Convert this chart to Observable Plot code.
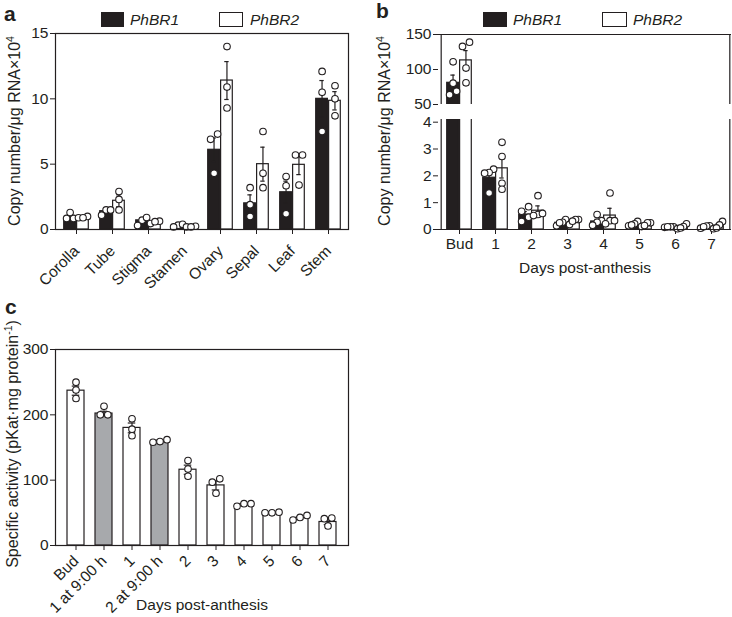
<!DOCTYPE html>
<html>
<head>
<meta charset="utf-8">
<script src="https://cdn.jsdelivr.net/npm/d3@7"></script>
<script src="https://cdn.jsdelivr.net/npm/@observablehq/plot@0.6"></script>
<style>
  html, body { margin: 0; padding: 0; background: #fff; }
  #root { position: relative; width: 732px; height: 617px; overflow: hidden; background: #fff;
          font-family: 'Liberation Sans', Arial, Helvetica, sans-serif; color: #231f20; }
  #root svg text { font-size: 15.5px; }
  .abs { position: absolute; white-space: nowrap; }
  .panel { font-weight: bold; font-size: 21px; line-height: 1; }
  .title { font-size: 15.5px; line-height: 1; transform: translate(-50%, -50%); }
  .ytitle { font-size: 16px; line-height: 1; transform: translate(-50%, -50%) rotate(-90deg); }
  .ytitle sup, .title sup { font-size: 10.5px; vertical-align: 0.55em; line-height: 0; }
  .sw { position: absolute; box-sizing: border-box; border: 1.2px solid #231f20; }
  .leg { position: absolute; font-size: 15.5px; font-style: italic; line-height: 1; transform: translateY(-50%); }
</style>
</head>
<body>
<div id="root"></div>
<script>
// ---------------- data ----------------
const genes = ["PhBR1", "PhBR2"];

// panel a: tissues
const tissues = ["Corolla", "Tube", "Stigma", "Stamen", "Ovary", "Sepal", "Leaf", "Stem"];
const aBR1Mean = [0.85, 1.4, 0.7, 0.3, 6.1, 2.0, 2.85, 10.0];
const aBR1Sem  = [0.15, 0.13, 0.17, 0.06, 0.9, 0.65, 0.85, 1.4];
const aBR1Reps = [[0.85, 1.3, 0.85], [1.5, 1.5, 1.1], [0.92, 0.71, 0.3], [0.2, 0.4, 0.33],
                  [7.3, 6.9, 4.3], [3.2, 1.9, 1.0], [4.05, 3.35, 1.2], [12.1, 10.5, 7.5]];
const aBR2Mean = [0.95, 2.2, 0.58, 0.24, 11.4, 5.0, 4.95, 9.85];
const aBR2Sem  = [0.05, 0.45, 0.06, 0.03, 1.45, 1.3, 0.75, 0.7];
const aBR2Reps = [[0.9, 1.0, 0.9], [2.9, 2.3, 1.5], [0.45, 0.64, 0.6], [0.2, 0.25, 0.2],
                  [14.0, 10.9, 9.3], [7.5, 4.3, 3.2], [5.7, 5.7, 3.4], [11.0, 10.0, 8.7]];
const aTicks = [0, 5, 10, 15];

// panel b: days post-anthesis (broken axis)
const days = ["Bud", "1", "2", "3", "4", "5", "6", "7"];
const bBR1Mean = [81, 1.93, 0.55, 0.25, 0.3, 0.19, 0.09, 0.11];
const bBR1Sem  = [11, 0.2, 0.12, 0.05, 0.08, 0.04, 0.01, 0.02];
const bBR1Reps = [[111, 80.5, 64, 69], [2.25, 2.12, 2.1, 1.36], [0.85, 0.68, 0.46, 0.3], [0.37, 0.27, 0.25, 0.14],
                  [0.56, 0.33, 0.27, 0.16], [0.3, 0.21, 0.14, 0.17], [0.1, 0.1, 0.08, 0.1], [0.14, 0.13, 0.1, 0.05]];
const bBR2Mean = [113, 2.28, 0.7, 0.33, 0.52, 0.22, 0.1, 0.14];
const bBR2Sem  = [14, 0.36, 0.18, 0.04, 0.27, 0.04, 0.04, 0.06];
const bBR2Reps = [[139, 133, 102, 81], [3.25, 2.72, 1.72, 1.5], [1.26, 0.6, 0.56, 0.52], [0.37, 0.37, 0.31, 0.19],
                  [1.36, 0.33, 0.33, 0.21], [0.25, 0.25, 0.15, 0.11], [0.21, 0.11, 0.06, 0.03], [0.3, 0.17, 0.06, 0.03]];
const bUpperDomain = [50, 150];
const bLowerDomain = [0, 4.1];
const bUpperTicks = [50, 100, 150];
const bLowerTicks = [0, 1, 2, 3, 4];

// panel c: specific activity
const stages = ["Bud", "1 at 9:00 h", "1", "2 at 9:00 h", "2", "3", "4", "5", "6", "7"];
const stageMorning = [false, true, false, true, false, false, false, false, false, false];
const cMean = [237, 202, 180, 160, 116, 92, 63, 50.5, 42, 36];
const cSem  = [7, 3.5, 7.5, 1.2, 7, 7, 1.5, 0.5, 2, 4];
const cReps = [[250, 238, 225], [213, 200, 200], [194, 178, 168], [158, 162, 159], [130, 117, 106],
               [102, 97, 80], [60, 64, 64], [50, 51, 50], [46, 39, 43], [42, 41, 30]];
const cTicks = [0, 100, 200, 300];

// ---------------- helpers ----------------
const BLACK = "#231f20";
const GREY = "#a7a9ac";
const FONT = "'Liberation Sans', Arial, Helvetica, sans-serif";
const root = document.getElementById("root");
const baseStyle = {fontFamily: FONT, fontSize: "15.5px", color: BLACK, background: "transparent", overflow: "visible"};
const intFmt = d => String(d);

function place(el, left, top) {
  el.style.position = "absolute";
  el.style.left = left + "px";
  el.style.top = top + "px";
  root.appendChild(el);
}
function html(cls, inner, left, top) {
  const d = document.createElement("div");
  d.className = "abs " + cls;
  d.innerHTML = inner;
  d.style.left = left + "px";
  d.style.top = top + "px";
  root.appendChild(d);
  return d;
}
function swatch(left, top, w, h, fill) {
  const d = document.createElement("div");
  d.className = "sw";
  Object.assign(d.style, {left: left + "px", top: top + "px", width: w + "px", height: h + "px", background: fill});
  root.appendChild(d);
}
function summary(cats, mean, sem) {
  return cats.map((c, i) => ({cat: c, mean: mean[i], lo: Math.max(0, mean[i] - sem[i]), hi: mean[i] + sem[i]}));
}
// symmetric horizontal spreading of replicate dots that would overlap vertically
function dodge(values, pxPerUnit, step, maxHalf) {
  const idx = values.map((v, i) => i).sort((a, b) => values[a] - values[b]);
  const off = new Array(values.length).fill(0);
  let cluster = [idx[0]];
  const flush = () => {
    const n = cluster.length;
    const s = n > 1 ? Math.min(step, 2 * maxHalf / (n - 1)) : 0;
    cluster.forEach((k, j) => off[k] = (j - (n - 1) / 2) * s);
  };
  for (let j = 1; j < idx.length; j++) {
    if ((values[idx[j]] - values[idx[j - 1]]) * pxPerUnit < 5.5) cluster.push(idx[j]);
    else { flush(); cluster = [idx[j]]; }
  }
  flush();
  return off;
}
function pointRows(cats, reps, groupDx, pxFn, step, maxHalf) {
  const rows = [];
  cats.forEach((c, i) => {
    const vals = reps[i];
    const off = dodge(vals, pxFn(vals), step, maxHalf);
    vals.forEach((v, j) => rows.push({cat: c, v, dx: groupDx + off[j]}));
  });
  return rows;
}
function dotMarks(rows) {
  const groups = d3.group(rows, d => Math.round(d.dx * 10) / 10);
  return Array.from(groups, ([dx, g]) =>
    Plot.dot(g, {x: "cat", y: "v", dx, r: 3.3, fill: "white", stroke: BLACK, strokeWidth: 1.1}));
}
// paired bars (PhBR1 black, PhBR2 white) inside a band of width bw
const BAR_W = 12.3, BAR_GAP = 0.3, CAP_W = 5;
const CENTER = BAR_GAP + BAR_W / 2;
function pairedBars(bw, s1, s2, y1Fn) {
  const marks = [];
  [[s1, -CENTER, BLACK], [s2, CENTER, "white"]].forEach(([rows, dx, fill]) => {
    const insetLeft = bw / 2 + dx - BAR_W / 2;
    const insetRight = bw - insetLeft - BAR_W;
    marks.push(Plot.barY(rows, {x: "cat", y1: y1Fn, y2: "mean", fill, stroke: BLACK, strokeWidth: 1.2,
                                insetLeft, insetRight, clip: true}));
  });
  return marks;
}
function errorMarks(rows, dx, bw, capW) {
  const inset = (bw - capW) / 2;
  return [
    Plot.ruleX(rows, {x: "cat", y1: "lo", y2: "hi", dx, stroke: BLACK, strokeWidth: 1.2}),
    Plot.tickY(rows, {x: "cat", y: "hi", dx, insetLeft: inset, insetRight: inset, stroke: BLACK, strokeWidth: 1.2}),
    Plot.tickY(rows, {x: "cat", y: "lo", dx, insetLeft: inset, insetRight: inset, stroke: BLACK, strokeWidth: 1.2})
  ];
}

// ---------------- panel a ----------------
{
  const L = {left: 0, top: 0, width: 360, height: 290, ml: 55, mr: 12, mt: 33, mb: 61};
  const innerH = L.height - L.mt - L.mb;
  const bw = (L.width - L.ml - L.mr) / tissues.length;
  const px = innerH / (aTicks[aTicks.length - 1] - aTicks[0]);
  const s1 = summary(tissues, aBR1Mean, aBR1Sem);
  const s2 = summary(tissues, aBR2Mean, aBR2Sem);
  const p1 = pointRows(tissues, aBR1Reps, -CENTER, () => px, 7, 4.5);
  const p2 = pointRows(tissues, aBR2Reps, CENTER, () => px, 7, 4.5);
  const svg = Plot.plot({
    width: L.width, height: L.height, marginLeft: L.ml, marginRight: L.mr, marginTop: L.mt, marginBottom: L.mb,
    style: baseStyle,
    x: {domain: tissues, padding: 0, tickRotate: -45, tickSize: 5, tickPadding: 14, label: null},
    y: {domain: [aTicks[0], aTicks[aTicks.length - 1]], ticks: aTicks, tickFormat: intFmt, tickSize: 5, tickPadding: 2, label: null},
    marks: [
      ...pairedBars(bw, s1, s2, () => 0),
      ...errorMarks(s1, -CENTER, bw, CAP_W),
      ...errorMarks(s2, CENTER, bw, CAP_W),
      ...dotMarks(p1), ...dotMarks(p2),
      Plot.frame({stroke: BLACK, strokeWidth: 1.2})
    ]
  });
  place(svg, L.left, L.top);
  html("panel", "a", 4, 3);
  html("ytitle", "Copy number/μg RNA×10<sup>4</sup>", 15, 131);
  swatch(101, 12, 23, 15, BLACK);
  html("leg", genes[0], 130, 19.5);
  swatch(219, 12, 24, 15, "white");
  html("leg", genes[1], 250, 19.5);
}

// ---------------- panel b (broken y axis) ----------------
{
  const left = 370, width = 362, ml = 68, mr = 1;
  const bw = (width - ml - mr) / days.length;
  const U = {top: 0, height: 104, mt: 34, mb: 0};
  const D = {top: 104, height: 155, mt: 15, mb: 30};
  const pxU = (U.height - U.mt - U.mb) / (bUpperDomain[1] - bUpperDomain[0]);
  const pxD = (D.height - D.mt - D.mb) / (bLowerDomain[1] - bLowerDomain[0]);
  const s1 = summary(days, bBR1Mean, bBR1Sem);
  const s2 = summary(days, bBR2Mean, bBR2Sem);
  const pxFn = vals => (vals[0] >= bUpperDomain[0] ? pxU : pxD);
  const p1 = pointRows(days, bBR1Reps, -CENTER, pxFn, 7, 4.5);
  const p2 = pointRows(days, bBR2Reps, CENTER, pxFn, 7, 4.5);
  const inUpper = d => (d.mean ?? d.v) >= bUpperDomain[0];
  const inLower = d => (d.mean ?? d.v) <= bLowerDomain[1];
  const edges = [
    Plot.ruleX([days[0]], {x: d => d, dx: -bw / 2, stroke: BLACK, strokeWidth: 1.2}),
    Plot.ruleX([days[days.length - 1]], {x: d => d, dx: bw / 2, stroke: BLACK, strokeWidth: 1.2})
  ];
  const upper = Plot.plot({
    width, height: U.height, marginLeft: ml, marginRight: mr, marginTop: U.mt, marginBottom: U.mb,
    style: baseStyle,
    x: {domain: days, padding: 0, axis: null},
    y: {domain: bUpperDomain, ticks: bUpperTicks, tickFormat: intFmt, tickSize: 5, tickPadding: 2, label: null},
    marks: [
      ...pairedBars(bw, s1.filter(inUpper), s2.filter(inUpper), () => bUpperDomain[0] - 3),
      ...errorMarks(s1.filter(inUpper), -CENTER, bw, CAP_W),
      ...errorMarks(s2.filter(inUpper), CENTER, bw, CAP_W),
      ...dotMarks(p1.filter(inUpper)), ...dotMarks(p2.filter(inUpper)),
      ...edges,
      Plot.ruleY([bUpperDomain[1]], {stroke: BLACK, strokeWidth: 1.2})
    ]
  });
  place(upper, left, U.top);
  const lower = Plot.plot({
    width, height: D.height, marginLeft: ml, marginRight: mr, marginTop: D.mt, marginBottom: D.mb,
    style: baseStyle,
    x: {domain: days, padding: 0, tickSize: 5, tickPadding: 3, label: null},
    y: {domain: bLowerDomain, ticks: bLowerTicks, tickFormat: intFmt, tickSize: 5, tickPadding: 2, label: null},
    marks: [
      ...pairedBars(bw, s1, s2, () => 0),
      ...errorMarks(s1.filter(inLower), -CENTER, bw, CAP_W),
      ...errorMarks(s2.filter(inLower), CENTER, bw, CAP_W),
      ...dotMarks(p1.filter(inLower)), ...dotMarks(p2.filter(inLower)),
      ...edges,
      Plot.ruleY([bLowerDomain[0]], {stroke: BLACK, strokeWidth: 1.2})
    ]
  });
  place(lower, left, D.top);
  html("panel", "b", 376, 0);
  html("ytitle", "Copy number/μg RNA×10<sup>4</sup>", 385, 131);
  html("title", "Days post-anthesis", 585, 268);
  swatch(483, 12, 24, 15, BLACK);
  html("leg", genes[0], 513, 19.5);
  swatch(602, 12, 25, 15, "white");
  html("leg", genes[1], 633, 19.5);
}

// ---------------- panel c ----------------
{
  const L = {left: 0, top: 300, width: 360, height: 315, ml: 55, mr: 12, mt: 49, mb: 70};
  const pad = 0.38;
  const W = L.width - L.ml - L.mr;
  const step = W / (stages.length - pad + 2 * pad);
  const bw = step * (1 - pad);
  const px = (L.height - L.mt - L.mb) / (cTicks[cTicks.length - 1] - cTicks[0]);
  const rows = summary(stages, cMean, cSem).map((d, i) => ({...d, morning: stageMorning[i]}));
  const pts = pointRows(stages, cReps, 0, () => px, 7.5, 7);
  const svg = Plot.plot({
    width: L.width, height: L.height, marginLeft: L.ml, marginRight: L.mr, marginTop: L.mt, marginBottom: L.mb,
    style: baseStyle,
    x: {domain: stages, padding: pad, tickRotate: -45, tickSize: 5, tickPadding: 8, label: null},
    y: {domain: [cTicks[0], cTicks[cTicks.length - 1]], ticks: cTicks, tickFormat: intFmt, tickSize: 5, tickPadding: 2, label: null},
    marks: [
      Plot.barY(rows.filter(d => !d.morning), {x: "cat", y: "mean", fill: "white", stroke: BLACK, strokeWidth: 1.2}),
      Plot.barY(rows.filter(d => d.morning), {x: "cat", y: "mean", fill: GREY, stroke: BLACK, strokeWidth: 1.2}),
      ...errorMarks(rows, 0, bw, 8),
      ...dotMarks(pts),
      Plot.frame({stroke: BLACK, strokeWidth: 1.2})
    ]
  });
  place(svg, L.left, L.top);
  html("panel", "c", 5, 296);
  html("ytitle", "Specific activity (pKat·mg protein<sup>-1</sup>)", 13, 444);
  html("title", "Days post-anthesis", 202, 605);
}
</script>
</body>
</html>
